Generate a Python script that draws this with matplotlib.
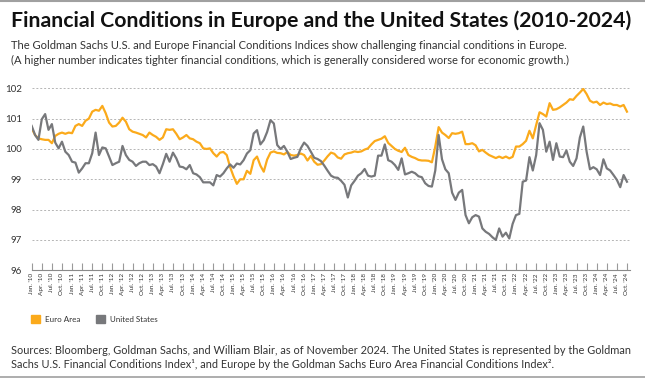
import numpy as np
import pandas as pd
import matplotlib
matplotlib.use("Agg")
import matplotlib.pyplot as plt
from matplotlib.patches import Patch

# monthly index values, Jan 2010 .. Oct 2024
euro_area = [
    100.68, 100.46, 100.35, 100.32, 100.30, 100.30, 100.19, 100.43, 100.50, 100.54, 100.50, 100.54,  # 2010
    100.52, 100.76, 100.82, 100.76, 100.93, 101.00, 101.23, 101.29, 101.26, 101.42, 101.18, 100.87,  # 2011
    100.74, 100.76, 100.87, 101.03, 100.90, 100.65, 100.57, 100.54, 100.50, 100.46, 100.38, 100.54,  # 2012
    100.46, 100.40, 100.30, 100.38, 100.65, 100.63, 100.65, 100.50, 100.32, 100.38, 100.46, 100.35,  # 2013
    100.32, 100.24, 100.19, 100.02, 100.00, 100.02, 99.86, 99.75, 99.88, 99.90, 99.80, 99.40,  # 2014
    99.10, 98.85, 99.00, 99.00, 99.28, 99.18, 99.63, 99.75, 99.45, 99.25, 99.65, 99.88,  # 2015
    99.92, 99.87, 99.86, 99.82, 99.90, 99.80, 99.78, 99.80, 99.85, 99.80, 99.62, 99.77,  # 2016
    99.58, 99.48, 99.50, 99.62, 99.76, 99.88, 99.84, 99.72, 99.68, 99.82, 99.86, 99.88,  # 2017
    99.92, 99.90, 99.92, 99.98, 100.02, 100.15, 100.26, 100.30, 100.34, 100.42, 100.20, 100.10,  # 2018
    100.00, 99.94, 99.90, 100.04, 99.80, 99.74, 99.70, 99.64, 99.62, 99.62, 99.61, 99.56,  # 2019
    100.08, 100.72, 100.54, 100.46, 100.36, 100.52, 100.50, 100.52, 100.57, 100.16, 100.16, 100.19,  # 2020
    100.12, 99.92, 99.97, 99.88, 99.80, 99.75, 99.70, 99.75, 99.70, 99.75, 99.69, 99.74,  # 2021
    100.08, 100.08, 100.16, 100.27, 100.60, 100.35, 100.79, 101.21, 101.15, 101.07, 101.51, 101.29,  # 2022
    101.31, 101.37, 101.45, 101.53, 101.64, 101.62, 101.75, 101.86, 101.98, 101.81, 101.59, 101.53,  # 2023
    101.56, 101.45, 101.53, 101.48, 101.50, 101.45, 101.45, 101.40, 101.45, 101.23,  # 2024
]
united_states = [
    100.76, 100.46, 100.30, 100.98, 101.15, 100.63, 100.82, 100.21, 100.02, 100.24, 99.91, 99.80,
    99.58, 99.55, 99.22, 99.36, 99.53, 99.53, 99.86, 100.54, 99.80, 100.05, 100.02, 99.75,
    99.47, 99.53, 99.58, 100.10, 99.80, 99.64, 99.58, 99.44, 99.53, 99.58, 99.58, 99.47,
    99.50, 99.42, 99.20, 99.50, 99.84, 99.58, 99.88, 99.69, 99.42, 99.40, 99.33, 99.47,
    99.20, 99.16, 99.07, 98.90, 98.90, 98.90, 98.80, 99.14, 99.09, 99.20, 99.36, 99.49,
    99.38, 99.52, 99.49, 99.63, 99.85, 99.96, 100.51, 100.62, 100.15, 100.29, 100.56, 100.95,
    100.84, 100.13, 100.00, 100.10, 99.91, 99.67, 99.71, 99.74, 100.02, 100.21, 100.10, 99.91,
    99.71, 99.67, 99.60, 99.45, 99.28, 99.12, 99.06, 99.05, 98.95, 98.82, 98.40, 98.80,
    98.95, 99.12, 99.20, 99.34, 99.12, 99.09, 99.12, 99.78, 99.78, 100.15, 99.63, 99.58,
    99.47, 99.31, 99.69, 99.16, 99.20, 99.25, 99.20, 99.10, 99.07, 98.87, 98.78, 98.76,
    99.29, 100.46, 99.66, 99.33, 99.20, 98.56, 98.32, 98.56, 98.65, 97.82, 97.55, 97.75,
    97.82, 97.77, 97.38, 97.27, 97.20, 97.09, 97.00, 97.38, 97.11, 97.24, 97.05, 97.53,
    97.82, 97.86, 98.92, 98.96, 99.73, 99.29, 99.80, 100.85, 100.63, 99.91, 100.24, 99.64,
    100.19, 99.75, 99.73, 99.95, 99.58, 99.44, 99.69, 100.38, 100.74, 99.91, 99.33, 99.40,
    99.33, 99.14, 99.66, 99.36, 99.29, 99.14, 98.98, 98.74, 99.14, 98.92,
]
dates = pd.date_range("2010-01-01", periods=len(euro_area), freq="MS")
tick_dates = pd.date_range("2010-01-01", "2024-10-01", freq="QS")
y_ticks = [96, 97, 98, 99, 100, 101, 102]

ORANGE = "#FBAA1B"
GRAY = "#77787B"
TXT = "#333333"

plt.rcParams["font.family"] = ["Lato", "DejaVu Sans"]

W, H = 645, 378
fig = plt.figure(figsize=(W / 100, H / 100), dpi=100)

def px(x, y):
    return x / W, 1 - y / H

ax = fig.add_axes([31.7 / W, 1 - 270.3 / H, (630 - 31.7) / W, 182 / H])
m = np.arange(len(euro_area))
ax.plot(m, euro_area, color=ORANGE, lw=1.6, solid_joinstyle="round", zorder=3)
ax.plot(m, united_states, color=GRAY, lw=1.6, solid_joinstyle="round", zorder=3)

ax.set_xlim(0, 177.9)
ax.set_ylim(96, 102)
ax.set_yticks(y_ticks)
ax.set_yticklabels([str(v) for v in y_ticks], fontsize=7, color=TXT)
for v in y_ticks[1:]:
    ax.axhline(v, color="#b5b5b5", lw=0.7, ls=(0, (2, 2)), zorder=1)
ax.tick_params(axis="y", length=0, pad=7)

tick_pos = [(d.year - 2010) * 12 + d.month - 1 for d in tick_dates]
tick_lab = [d.strftime("%b. '%y") for d in tick_dates]
ax.set_xticks(tick_pos)
ax.set_xticklabels(tick_lab, rotation=90, fontsize=4.6, color=TXT)
ax.tick_params(axis="x", direction="in", length=5, width=0.8, color="#9a9a9a", pad=2)

for s in ["top", "right", "left"]:
    ax.spines[s].set_visible(False)
ax.spines["bottom"].set_color("#8a8a8a")
ax.spines["bottom"].set_linewidth(0.8)

# legend
handles = [Patch(color=ORANGE, label="Euro Area"), Patch(color=GRAY, label="United States")]
fig.legend(handles=handles, loc="center left", bbox_to_anchor=px(24, 319), ncol=2,
           frameon=False, fontsize=5.8, handlelength=1.1, handleheight=1.1,
           handletextpad=0.6, columnspacing=2.0, labelcolor=TXT)

# texts
fig.text(*px(11, 27), "Financial Conditions in Europe and the United States (2010-2024)",
         fontsize=15.3, fontweight="bold", color="#111111", va="baseline")
fig.text(*px(11, 49), "The Goldman Sachs U.S. and Europe Financial Conditions Indices show challenging financial conditions in Europe.",
         fontsize=8.0, color=TXT, va="baseline")
fig.text(*px(11, 64), "(A higher number indicates tighter financial conditions, which is generally considered worse for economic growth.)",
         fontsize=8.0, color=TXT, va="baseline")
fig.text(*px(11, 354), "Sources: Bloomberg, Goldman Sachs, and William Blair, as of November 2024. The United States is represented by the Goldman",
         fontsize=7.9, color=TXT, va="baseline")
fig.text(*px(11, 368), "Sachs U.S. Financial Conditions Index\u00b9, and Europe by the Goldman Sachs Euro Area Financial Conditions Index\u00b2.",
         fontsize=7.9, color=TXT, va="baseline")

# thin gray frame lines at top and bottom
fig.add_artist(plt.Line2D([0, 1], [1 - 1 / H, 1 - 1 / H], color="#a0a0a0", lw=1.5))
fig.add_artist(plt.Line2D([0, 1], [1 - 376.5 / H, 1 - 376.5 / H], color="#a0a0a0", lw=1.2))

fig.savefig("out.png", dpi=100)
